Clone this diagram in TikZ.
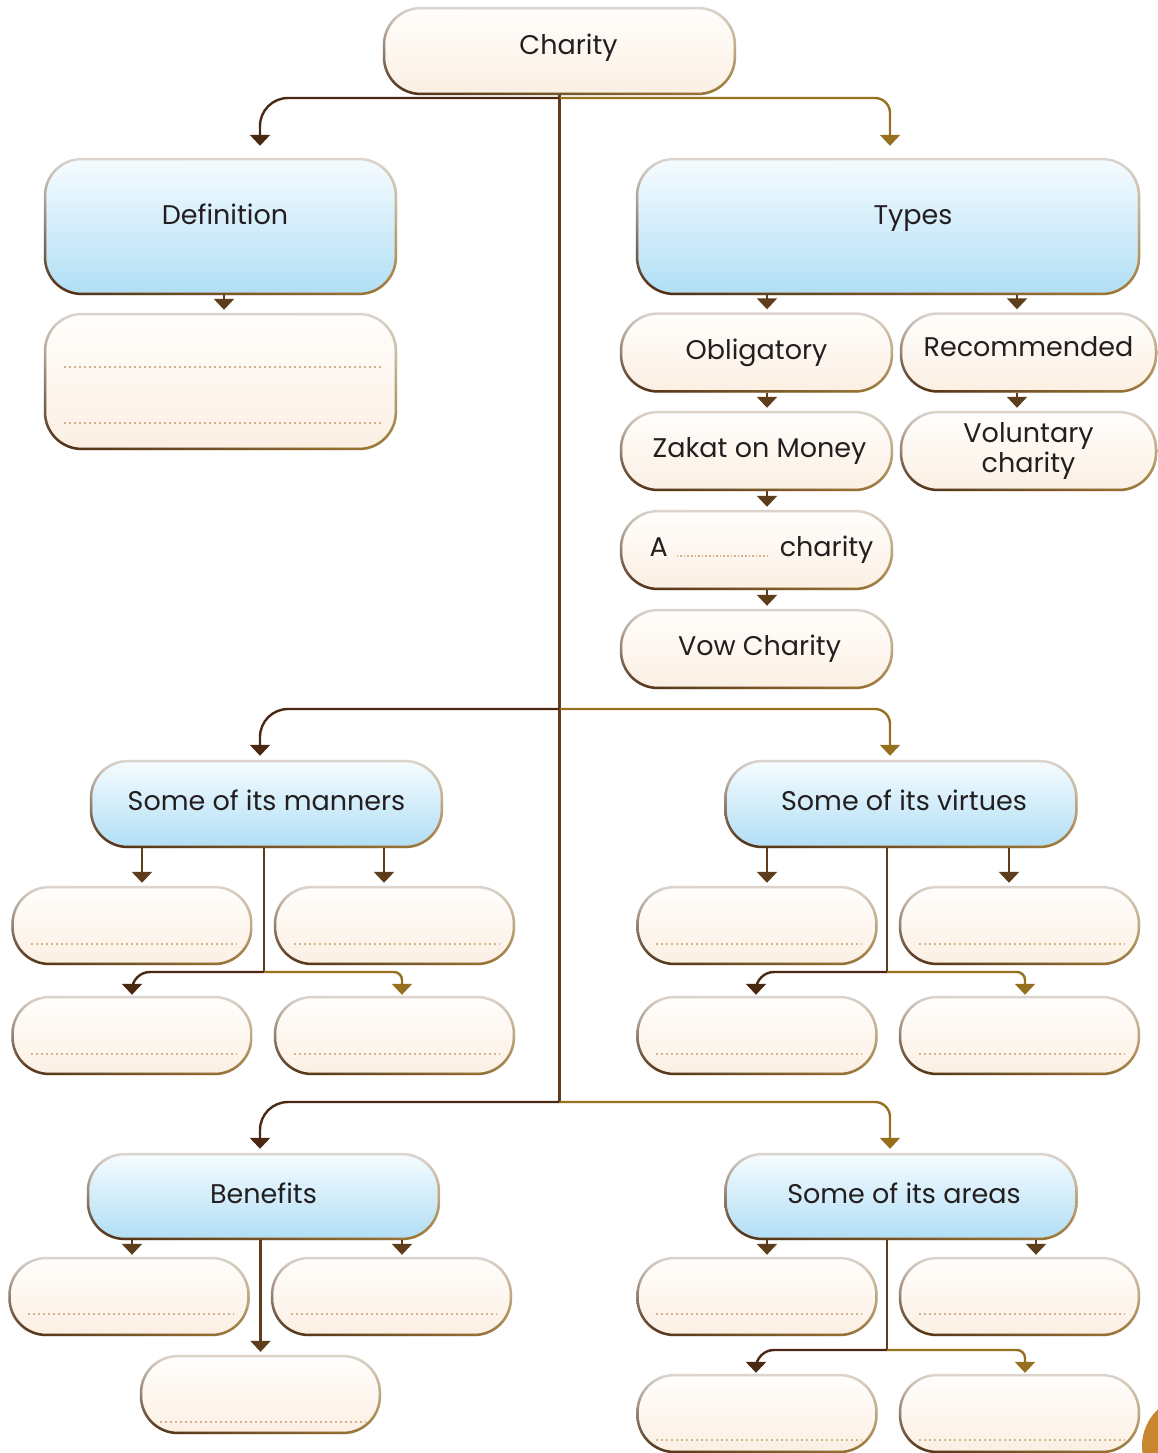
\documentclass[tikz,border=0pt]{standalone}
\usepackage{fontspec}
\setmainfont{Poppins}
\usetikzlibrary{arrows.meta, calc, fadings}

\definecolor{ink}{HTML}{231F20}
\definecolor{crtop}{HTML}{FFFEFC}
\definecolor{crbot}{HTML}{FCEFE3}
\definecolor{sktop}{HTML}{F6FCFF}
\definecolor{skbot}{HTML}{B0DEF5}
\definecolor{rimlt}{HTML}{DDD6CF}
\definecolor{rimdk}{HTML}{4A2A12}
\definecolor{rimgd}{HTML}{A07A35}
\definecolor{lndk}{HTML}{4A2812}
\definecolor{lngd}{HTML}{96701F}
\definecolor{lnmd}{HTML}{5E3D1A}
\definecolor{dotc}{HTML}{D2B48A}
\definecolor{pgorange}{HTML}{C8872F}

\newcommand\boxfont{\fontsize{27}{30}\selectfont}

\begin{document}
\begin{tikzpicture}[x=1pt, y=-1pt,
  pill/.style={rectangle, rounded corners=38pt, inner sep=0pt, font=\boxfont, text=ink},
  cream/.style={pill, top color=crtop, bottom color=crbot},
  sky/.style={pill, top color=sktop, bottom color=skbot},
  tl/.style={text height=19pt, text depth=#1},
  tl/.default=6pt,
  head/.style={minimum width=353pt, minimum height=88pt},
  big/.style={minimum width=353pt, minimum height=137pt},
  small/.style={minimum width=273pt, minimum height=80pt},
  blank/.style={minimum width=241pt, minimum height=79pt},
  wire/.style={line width=2.4pt},
  tip/.style={wire, -{Triangle[width=20pt,length=11pt]}},
  dotln/.style={dotc, line width=1.7pt, dash pattern=on 1.7pt off 3.3pt}]

  \path[use as bounding box, fill=white] (0,0) rectangle (1157,1453);

  % top
  \node[cream, head, tl=12pt] (charity) at (559.5,51) {\hspace*{18pt}Charity};
  \node[sky, big, tl=24pt] (defn) at (220.5,226.5) {\hspace*{9pt}Definition};
  \node[cream, big] (defnbox) at (220.5,381.5) {};
  \node[sky, big, tl=24pt, minimum width=504pt] (types) at (888,226.5) {\hspace*{50pt}Types};

  % types
  \node[cream, small, tl] (oblig) at (756.5,352.5) {Obligatory};
  \node[cream, small, tl=12pt, minimum width=257pt] (recom) at (1028.5,352.5) {Recommended};
  \node[cream, small, tl] (zakat) at (756.5,451) {\hspace*{6pt}Zakat on Money};
  \node[cream, small, minimum width=257pt, align=center] (volun) at (1028.5,451) {Voluntary\\charity};
  \node[cream, small, tl] (achar) at (756.5,550) {\hspace*{10pt}A\hspace{6pt}{\color{dotc}\leaders\hbox to 3.6pt{\hss\rule{1.5pt}{1.5pt}\hss}\hskip 98pt}\hspace{8pt}charity};
  \node[cream, small, tl] (vow) at (756.5,649) {\hspace*{6pt}Vow Charity};

  % manners and virtues
  \node[sky, head, tl] (manners) at (266.5,804) {Some of its manners};
  \node[cream, blank] (m1) at (132,925.5) {};
  \node[cream, blank] (m2) at (394.5,925.5) {};
  \node[cream, blank] (m3) at (132,1035.5) {};
  \node[cream, blank] (m4) at (394.5,1035.5) {};
  \node[sky, head, tl] (virtues) at (901,804) {\hspace*{6pt}Some of its virtues};
  \node[cream, blank] (v1) at (757,925.5) {};
  \node[cream, blank] (v2) at (1019.5,925.5) {};
  \node[cream, blank] (v3) at (757,1035.5) {};
  \node[cream, blank] (v4) at (1019.5,1035.5) {};

  % benefits and areas
  \node[sky, head, tl, minimum height=87pt] (benefits) at (263.5,1196.5) {Benefits};
  \node[cream, blank] (b1) at (129,1296.5) {};
  \node[cream, blank] (b2) at (391.5,1296.5) {};
  \node[cream, blank] (b3) at (260.5,1394.5) {};
  \node[sky, head, tl, minimum height=87pt] (areas) at (901,1196.5) {\hspace*{6pt}Some of its areas};
  \node[cream, blank] (a1) at (757,1296.5) {};
  \node[cream, blank] (a2) at (1019.5,1296.5) {};
  \node[cream, blank] (a3) at (757,1413.5) {};
  \node[cream, blank] (a4) at (1019.5,1413.5) {};

  % rims
  \foreach \n in {charity, defn, defnbox, types, oblig, recom, zakat, volun, achar, vow,
      manners, m1, m2, m3, m4, virtues, v1, v2, v3, v4, benefits, b1, b2, b3, areas, a1, a2, a3, a4} {
    \fill[rimlt, even odd rule, rounded corners=38pt] (\n.south west) rectangle (\n.north east)
      [rounded corners=35.5pt] ([shift={(2.5pt,2.5pt)}]\n.south west) rectangle ([shift={(-2.5pt,-2.5pt)}]\n.north east);
    \shade[left color=rimdk, right color=rimgd, path fading=north, even odd rule, rounded corners=38pt]
      (\n.south west) rectangle (\n.north east)
      [rounded corners=35.5pt] ([shift={(2.5pt,2.5pt)}]\n.south west) rectangle ([shift={(-2.5pt,-2.5pt)}]\n.north east);
  }

  % dotted answer lines
  \foreach \n/\h in {m1/21, m2/21, m3/21, m4/21, v1/21, v2/21, v3/21, v4/21,
      b1/22, b2/22, a1/22, a2/22, b3/12, a3/13, a4/13, defnbox/27, defnbox/83}
    \draw[dotln] ([shift={(20pt,\h pt)}]\n.south west) -- ([shift={(-16pt,\h pt)}]\n.south east);

  % trunk and branches
  \coordinate (j1) at (559.5,98);
  \coordinate (j2) at (559.5,709);
  \coordinate (j3) at (559.5,1102);
  \draw[wire, lnmd] (charity.south) -- (j3);
  \draw[tip, lndk, rounded corners=28pt, shorten >=12pt] (j1) -| ($(defn.north)+(39.5,0)$);
  \draw[tip, lngd, rounded corners=15pt, shorten >=12pt] (j1) -| ($(types.north)+(2,0)$);
  \draw[tip, lndk, rounded corners=28pt, shorten >=4pt] (j2) -| ($(manners.north)+(-6.5,0)$);
  \draw[tip, lngd, rounded corners=15pt, shorten >=4pt] (j2) -| ($(virtues.north)+(-11,0)$);
  \draw[tip, lndk, rounded corners=28pt, shorten >=4pt] (j3) -| ($(benefits.north)+(-3.5,0)$);
  \draw[tip, lngd, rounded corners=15pt, shorten >=4pt] (j3) -| ($(areas.north)+(-11,0)$);

  % definition and types
  \draw[tip, lnmd, shorten >=3pt] ($(defn.south)+(3.5,0)$) -- ($(defnbox.north)+(3.5,0)$);
  \draw[tip, lnmd, shorten >=3pt] ($(oblig.north |- types.south)+(10.5,0)$) -- ($(oblig.north)+(10.5,0)$);
  \draw[tip, lnmd, shorten >=3pt] ($(recom.north |- types.south)+(-11.5,0)$) -- ($(recom.north)+(-11.5,0)$);
  \draw[tip, lnmd, shorten >=3pt] ($(oblig.south)+(10.5,0)$) -- ($(zakat.north)+(10.5,0)$);
  \draw[tip, lnmd, shorten >=3pt] ($(zakat.south)+(10.5,0)$) -- ($(achar.north)+(10.5,0)$);
  \draw[tip, lnmd, shorten >=3pt] ($(achar.south)+(10.5,0)$) -- ($(vow.north)+(10.5,0)$);
  \draw[tip, lnmd, shorten >=3pt] ($(recom.south)+(-11.5,0)$) -- ($(volun.north)+(-11.5,0)$);

  % manners
  \coordinate (mj) at (264,972);
  \draw[tip, lnmd, shorten >=3pt] ($(m1.north |- manners.south)+(10,0)$) -- ($(m1.north)+(10,0)$);
  \draw[tip, lnmd, shorten >=3pt] ($(m2.north |- manners.south)+(-10.5,0)$) -- ($(m2.north)+(-10.5,0)$);
  \draw[wire, lnmd] (manners.south -| mj) -- (mj);
  \draw[tip, lndk, rounded corners=18pt, shorten >=1pt] (mj) -| (m3.north);
  \draw[tip, lngd, rounded corners=8pt, shorten >=1pt] (mj) -| ($(m4.north)+(7.5,0)$);

  % virtues
  \coordinate (vj) at (887,972);
  \draw[tip, lnmd, shorten >=3pt] ($(v1.north |- virtues.south)+(10,0)$) -- ($(v1.north)+(10,0)$);
  \draw[tip, lnmd, shorten >=3pt] ($(v2.north |- virtues.south)+(-10.5,0)$) -- ($(v2.north)+(-10.5,0)$);
  \draw[wire, lnmd] (virtues.south -| vj) -- (vj);
  \draw[tip, lndk, rounded corners=18pt, shorten >=1pt] (vj) -| ($(v3.north)+(-1,0)$);
  \draw[tip, lngd, rounded corners=8pt, shorten >=1pt] (vj) -| ($(v4.north)+(5.5,0)$);

  % benefits
  \draw[tip, lnmd, shorten >=2pt] ($(b1.north |- benefits.south)+(3,0)$) -- ($(b1.north)+(3,0)$);
  \draw[tip, lnmd, shorten >=2pt] ($(b2.north |- benefits.south)+(10.5,0)$) -- ($(b2.north)+(10.5,0)$);
  \draw[tip, lnmd, shorten >=3pt] (b3.north |- benefits.south) -- (b3.north);

  % areas
  \coordinate (aj) at (887,1350);
  \draw[tip, lnmd, shorten >=2pt] ($(a1.north |- areas.south)+(10,0)$) -- ($(a1.north)+(10,0)$);
  \draw[tip, lnmd, shorten >=2pt] ($(a2.north |- areas.south)+(16.5,0)$) -- ($(a2.north)+(16.5,0)$);
  \draw[wire, lnmd] (areas.south -| aj) -- (aj);
  \draw[tip, lndk, rounded corners=18pt, shorten >=1pt] (aj) -| ($(a3.north)+(-1,0)$);
  \draw[tip, lngd, rounded corners=8pt, shorten >=1pt] (aj) -| ($(a4.north)+(5.5,0)$);

  % page mark
  \fill[pgorange] (1192,1446) circle (50pt);
\end{tikzpicture}
\end{document}
